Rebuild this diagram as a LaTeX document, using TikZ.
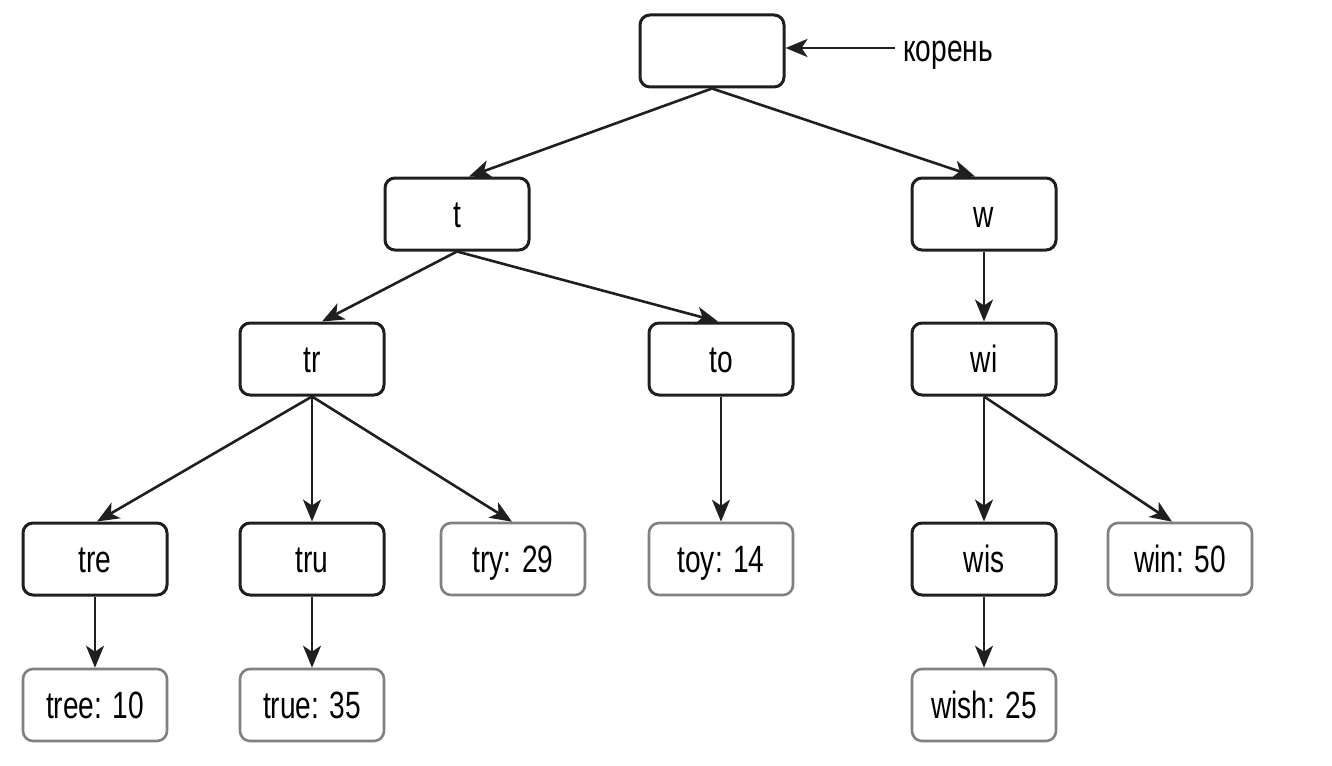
\documentclass[tikz,border=0pt]{standalone}
\usepackage{fontspec}
\setmainfont[FakeStretch=0.74]{Liberation Sans}
\usetikzlibrary{arrows.meta}
\begin{document}
\begin{tikzpicture}[x=1pt,y=-1pt,
  box/.style={draw=black!88, line width=3pt, rounded corners=10pt, minimum width=144pt, minimum height=72pt, inner sep=0pt, text height=27pt, text depth=0pt, font=\fontsize{38}{42}\selectfont},
  leaf/.style={box, draw=black!50, line width=2.6pt},
  edge/.style={line width=2.6pt, black!88, -{Stealth[length=22pt,width=18pt,inset=6pt]}}]
\useasboundingbox (0,0) rectangle (1332,765);
\node[box] (root) at (712,51) {};
\node[box] (t) at (457,214) {t};
\node[box] (w) at (984,214) {w};
\node[box] (tr) at (312,359) {tr};
\node[box] (to) at (721,359) {to};
\node[box] (wi) at (984,359) {wi};
\node[box] (tre) at (95,559) {tre};
\node[box] (tru) at (312,559) {tru};
\node[leaf] (try) at (513,559) {try: 29};
\node[leaf] (toy) at (721,559) {toy: 14};
\node[box] (wis) at (984,559) {wis};
\node[leaf] (win) at (1180,559) {win: 50};
\node[leaf] (tree) at (95,705) {tree: 10};
\node[leaf] (true) at (312,705) {true: 35};
\node[leaf] (wish) at (984,705) {wish: 25};
\node[anchor=west, inner sep=0pt, text height=27pt, text depth=0pt, font=\fontsize{38}{42}\selectfont] (lbl) at (903,48) {корень};
\coordinate (lblend) at (895,48);
\draw[edge] (lblend) -- (root.east |- lblend);
\draw[edge] (root.south) -- ([xshift=12pt]t.north);
\draw[edge] (root.south) -- ([xshift=-9pt]w.north);
\draw[edge] (w.south) -- (wi.north);
\draw[edge] (t.south) -- ([xshift=10pt]tr.north);
\draw[edge] (t.south) -- ([xshift=-3pt]to.north);
\draw[edge] (tr.south) -- ([xshift=2pt]tre.north);
\draw[edge] (tr.south) -- (tru.north);
\draw[edge] (tr.south) -- ([xshift=-1pt]try.north);
\draw[edge] (to.south) -- (toy.north);
\draw[edge] (wi.south) -- (wis.north);
\draw[edge] (wi.south) -- ([xshift=-8pt]win.north);
\draw[edge] (tre.south) -- (tree.north);
\draw[edge] (tru.south) -- (true.north);
\draw[edge] (wis.south) -- (wish.north);
\end{tikzpicture}
\end{document}
